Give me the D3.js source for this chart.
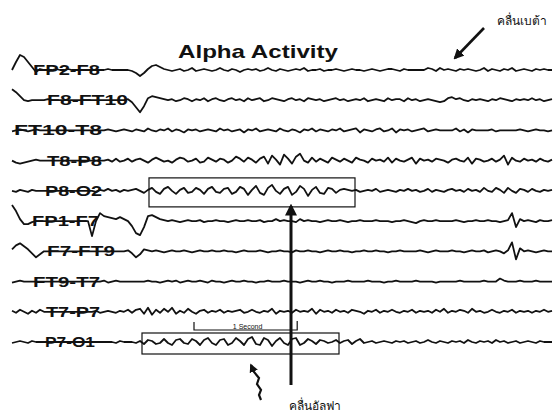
<!DOCTYPE html>
<html>
<head>
<meta charset="utf-8">
<script src="https://cdn.jsdelivr.net/npm/d3@7/dist/d3.min.js"></script>
<style>
  body { margin: 0; background: #fff; }
  text { font-family: "Liberation Sans", Arial, sans-serif; }
</style>
</head>
<body>
<svg id="chart" width="558" height="416"></svg>
<script>
// bipolar montage channels, top to bottom
var channels = ["FP2-F8", "F8-FT10", "FT10-T8", "T8-P8", "P8-O2",
                "FP1-F7", "F7-FT9", "FT9-T7", "T7-P7", "P7-O1"];

// traces, one sample every 4px (positive = up)
var fp2f8 = [0,8,15,13,8,3,-2,1,0,0, 0,1,0,0,1,0,0,0,0,0, 0,0,0,0,1,0,0,0,0,0,
  -1,-3,-6,-3,1,4,5,3,1,0, -1,0,1,-1,0,2,-1,0,1,0, -1,0,2,0,-1,1,0,-2,0,1,
  0,1,-1,0,2,0,-1,1,0,-1, 0,1,0,2,-1,0,0,1,-1,0, 0,1,0,-1,0,1,0,0,-1,0,
  1,0,-1,0,1,1,0,-1,1,0, 0,0,0,0,2,1,-1,2,0,1, 0,-1,1,0,1,0,-1,0,2,-1,
  1,0,-1,1,0,2,-1,0,1,0, -1,1,0,1,0,0];
var f8ft10 = [11,8,4,0,-1,0,0,0,0,1, 0,0,0,0,0,0,0,0,0,0, 0,0,0,0,0,0,0,0,0,1,
  -2,-7,-12,-6,2,4,3,2,1,0, 1,-1,0,2,1,-1,1,0,2,-1, 1,2,0,-1,1,2,0,1,-1,2,
  0,1,2,-1,0,2,1,0,-1,1, 2,0,1,-1,2,1,0,1,-1,0, 1,2,0,1,-1,0,1,0,2,-1,
  0,1,0,-1,2,0,1,1,-1,2, 0,1,-1,0,1,0,-1,-2,-1,2, 3,1,2,0,-1,1,0,1,0,-1,
  1,0,2,1,0,-1,1,0,1,0, 2,0,1,-1,0,1];
var ft10t8 = [-1,0,1,0,-1,0,1,0,0,0, 0,0,0,0,0,0,0,0,0,0, 0,0,0,0,1,0,-1,0,1,0,
  -1,1,0,-1,2,0,-1,1,0,2, -1,1,0,-2,1,0,1,-1,0,1, 0,-1,2,0,1,-1,0,1,-2,1,
  0,2,-1,0,1,0,-1,2,0,-1, 1,0,-2,1,0,2,-1,1,0,-1, 1,0,2,-1,0,1,2,-2,1,0,
  -1,1,2,-1,0,2,-2,1,0,1, -1,0,1,2,-1,0,1,0,0,0, 0,2,-1,1,-2,1,0,0,0,0,
  1,-1,0,0,0,0,0,1,0,-1, 0,1,0,0,-1,0];
var t8p8 = [0,-2,-3,-2,-1,0,1,0,0,0, 0,0,0,0,0,0,0,0,0,0, 0,0,0,0,1,-1,2,-1,0,2,
  -1,1,2,0,-2,1,3,1,-1,0, -2,1,3,2,-1,0,2,-2,-1,3, 1,-1,2,1,-2,0,4,2,-1,3,
  1,-2,2,4,-3,5,1,-4,6,2, -3,4,7,0,-2,3,-1,2,0,-2, 3,1,-1,2,0,-2,3,1,0,-2,
  2,0,1,-1,3,-2,2,0,-1,1, 3,-3,2,0,1,-1,2,1,0,-2, 1,2,0,-1,3,-3,2,1,-1,0,
  2,-1,1,5,-4,3,0,-1,2,0, 1,-1,2,0,-1,1];
var p8o2 = [0,-1,1,0,-1,1,0,0,0,0, 0,0,0,0,0,0,0,0,0,0, 0,-1,1,0,2,0,1,-1,1,0,
  1,2,0,-2,1,3,-1,-3,2,4, 0,-3,1,3,-2,-1,3,1,-3,2, 4,-1,-2,2,3,-3,-1,4,2,-4,
  1,5,-2,-4,3,6,0,-3,2,4, -4,-1,5,2,-5,1,4,-2,-3,3, 2,-2,1,2,1,0,1,-1,0,1,
  0,2,-1,0,1,0,-1,1,0,2, 0,1,-1,0,2,-1,1,0,-1,1, 2,0,1,-1,2,0,1,-1,3,0,
  -1,3,1,-2,3,0,-2,2,1,-1, 2,0,-1,1,0,1];
var fp1f7 = [16,10,2,-3,-3,-1,0,0,0,0, 0,0,0,0,0,0,0,0,0,0, -15,0,8,5,4,3,2,4,2,0,
  -5,-12,-14,-6,5,6,4,2,1,0, 1,0,-1,0,1,0,0,1,-1,0, 0,1,0,0,-1,0,1,0,0,1,
  0,0,1,-1,0,0,2,0,1,0, 0,-1,2,0,1,0,0,-1,0,1, 0,0,1,0,-1,0,0,1,0,0,
  0,1,0,0,0,-1,0,0,1,0, -1,-2,0,1,0,0,1,0,0,0, 0,1,0,-1,0,0,1,0,0,1,
  0,0,-1,0,1,8,-6,2,0,1, 0,-1,1,0,0,1];
var f7ft9 = [2,6,8,5,2,-2,-6,-3,0,0, 0,0,0,0,0,0,0,0,0,0, 0,0,0,0,0,0,0,0,0,1,
  -2,-6,-3,2,1,0,1,0,-1,0, 1,0,0,1,0,-1,0,1,0,0, 1,0,0,1,0,0,-1,0,1,0,
  0,0,1,0,-1,0,0,1,0,0, -1,1,0,0,1,0,0,-1,0,1, 0,0,1,0,0,-1,0,0,1,0,
  0,1,0,0,-1,0,0,1,0,0, 0,0,1,0,-1,0,1,0,0,0, 1,0,0,-1,0,1,0,0,1,-1,
  0,1,0,-2,1,9,-8,3,0,1, 0,-1,0,1,0,0];
var ft9t7 = [-1,0,1,0,0,0,0,0,0,0, 0,0,0,0,0,0,0,0,0,0, 0,0,0,1,-1,0,1,0,0,0,
  0,0,0,0,1,0,0,-1,0,1, 0,1,-1,0,1,0,0,1,0,-1, 1,0,0,-1,0,1,0,0,1,0,
  0,-1,0,0,1,0,0,0,1,0, 0,0,-1,0,1,0,0,1,0,0, -1,0,0,0,1,0,0,0,0,1,
  0,0,0,-1,0,0,1,0,0,0, 0,1,0,0,0,0,-1,0,0,0, 0,0,1,0,0,0,0,0,1,0,
  0,0,3,1,0,0,0,1,0,0, 0,1,0,0,0,0];
var t7p7 = [1,-1,2,0,-2,1,-1,2,0,0, 0,0,0,0,0,0,0,0,0,0, 0,1,-1,0,1,0,-1,1,0,2,
  -1,2,3,-2,4,-3,2,-1,3,0, 4,-2,1,-1,3,0,-2,1,2,-1, 1,0,2,-1,1,0,1,2,-1,0,
  2,0,-1,1,0,3,-2,1,0,1, -1,2,0,1,0,3,-2,2,0,1, -1,2,0,1,-1,2,1,0,-2,1,
  0,2,-1,1,0,2,0,-1,1,0, 2,-1,1,0,1,-1,2,0,3,-1, 1,0,2,1,-1,3,0,1,-1,0,
  2,0,-1,1,0,2,-1,1,0,1, -1,1,0,2,0,1];
var p7o1 = [-1,0,1,0,-1,1,0,0,0,0, 0,0,0,0,0,0,0,0,0,0, 0,0,0,0,0,0,-1,1,0,0,
  0,-1,1,-2,2,1,-2,-1,3,-1, -3,2,3,-1,-2,3,1,-3,2,4, -1,-3,2,3,-3,-1,4,1,-3,3,
  5,-2,-3,4,2,-4,1,4,-1,-3, 3,4,-3,-1,3,1,-2,2,1,-1, 0,2,-1,1,2,-2,1,3,-1,0,
  1,-1,0,1,0,-1,1,0,1,-1, 0,1,-1,0,2,0,-1,1,0,-1, 1,0,1,-1,2,0,-1,1,0,1,
  -1,2,0,1,-1,0,1,-1,0,1, 0,-1,1,0,0,0];
var traces = [fp2f8, f8ft10, ft10t8, t8p8, p8o2, fp1f7, f7ft9, ft9t7, t7p7, p7o1];

// boxed alpha bursts (sample index range)
var alphaChannels = ["P8-O2", "P7-O1"];
var alphaFrom = [34.25, 32.5];
var alphaTo = [85.75, 81.75];

// 1 second calibration bar (sample index range)
var secondFrom = 45.5, secondTo = 71.3;

var title = "Alpha Activity";
var betaLabel = "คลื่นเบต้า";
var alphaLabel = "คลื่นอัลฟา";

// layout only
var labelX = [33, 47, 14, 47, 45, 32, 47, 33, 46, 45];
var labelW = [67, 81, 88, 55, 57, 67, 68, 67, 54, 50];
var boxUp = [13, 9], boxDown = [16, 12];

var svg = d3.select("#chart");

var x = d3.scaleLinear().domain([0, fp2f8.length - 1]).range([12, 552]);
var row = d3.scalePoint().domain(channels).range([70, 342]);
var amp = d3.scaleLinear().domain([-20, 20]).range([20, -20]);

var line = d3.line()
  .x(function(d, i) { return x(i); })
  .y(function(d) { return amp(d); });

var rows = svg.selectAll("g.row")
  .data(channels)
  .enter().append("g")
  .attr("class", "row")
  .attr("transform", function(d) { return "translate(0," + row(d) + ")"; });

rows.append("path")
  .attr("d", function(d, i) { return line(traces[i]); })
  .attr("fill", "none")
  .attr("stroke", "#111")
  .attr("stroke-width", 1.8)
  .attr("stroke-linejoin", "round");

rows.append("text")
  .attr("x", function(d, i) { return labelX[i]; })
  .attr("y", 5)
  .attr("textLength", function(d, i) { return labelW[i]; })
  .attr("lengthAdjust", "spacingAndGlyphs")
  .attr("font-size", 14)
  .attr("font-weight", "bold")
  .attr("fill", "#111")
  .text(function(d) { return d; });

// boxes around alpha bursts
svg.selectAll("rect.alpha")
  .data(alphaChannels)
  .enter().append("rect")
  .attr("class", "alpha")
  .attr("x", function(d, i) { return x(alphaFrom[i]); })
  .attr("y", function(d, i) { return row(d) - boxUp[i]; })
  .attr("width", function(d, i) { return x(alphaTo[i]) - x(alphaFrom[i]); })
  .attr("height", function(d, i) { return boxUp[i] + boxDown[i]; })
  .attr("fill", "none")
  .attr("stroke", "#111")
  .attr("stroke-width", 1.2);

// title
svg.append("text")
  .attr("x", 178).attr("y", 58)
  .attr("textLength", 160)
  .attr("lengthAdjust", "spacingAndGlyphs")
  .attr("font-size", 19)
  .attr("font-weight", "bold")
  .attr("fill", "#111")
  .text(title);

// 1 second bar
var sy = 330;
svg.append("path")
  .attr("d", "M" + x(secondFrom) + "," + (sy - 8) + "V" + sy + "H" + x(secondTo) + "V" + (sy - 9))
  .attr("fill", "none")
  .attr("stroke", "#111")
  .attr("stroke-width", 1.2);
svg.append("text")
  .attr("x", (x(secondFrom) + x(secondTo)) / 2 + 2).attr("y", sy - 1)
  .attr("text-anchor", "middle")
  .attr("font-size", 7)
  .attr("fill", "#111")
  .text("1 Second");

// arrows
var defs = svg.append("defs");
defs.append("marker")
  .attr("id", "head")
  .attr("viewBox", "0 0 10 10")
  .attr("refX", 8).attr("refY", 5)
  .attr("markerWidth", 4).attr("markerHeight", 4)
  .attr("orient", "auto")
  .append("path").attr("d", "M0,0L10,5L0,10Z").attr("fill", "#111");

svg.append("line")
  .attr("x1", 291).attr("y1", 385)
  .attr("x2", 291).attr("y2", 206)
  .attr("stroke", "#111").attr("stroke-width", 3)
  .attr("marker-end", "url(#head)");

svg.append("line")
  .attr("x1", 484).attr("y1", 28)
  .attr("x2", 455).attr("y2", 58)
  .attr("stroke", "#111").attr("stroke-width", 2.6)
  .attr("marker-end", "url(#head)");

svg.append("path")
  .attr("d", "M261,400L259,395L261,390L257,384L259,378L254,372L251,365")
  .attr("fill", "none")
  .attr("stroke", "#111").attr("stroke-width", 2.2)
  .attr("marker-end", "url(#head)");

svg.append("text")
  .attr("x", 497).attr("y", 25)
  .attr("font-size", 12)
  .attr("fill", "#111")
  .text(betaLabel);

svg.append("text")
  .attr("x", 289).attr("y", 410)
  .attr("font-size", 12)
  .attr("fill", "#111")
  .text(alphaLabel);
</script>
</body>
</html>
